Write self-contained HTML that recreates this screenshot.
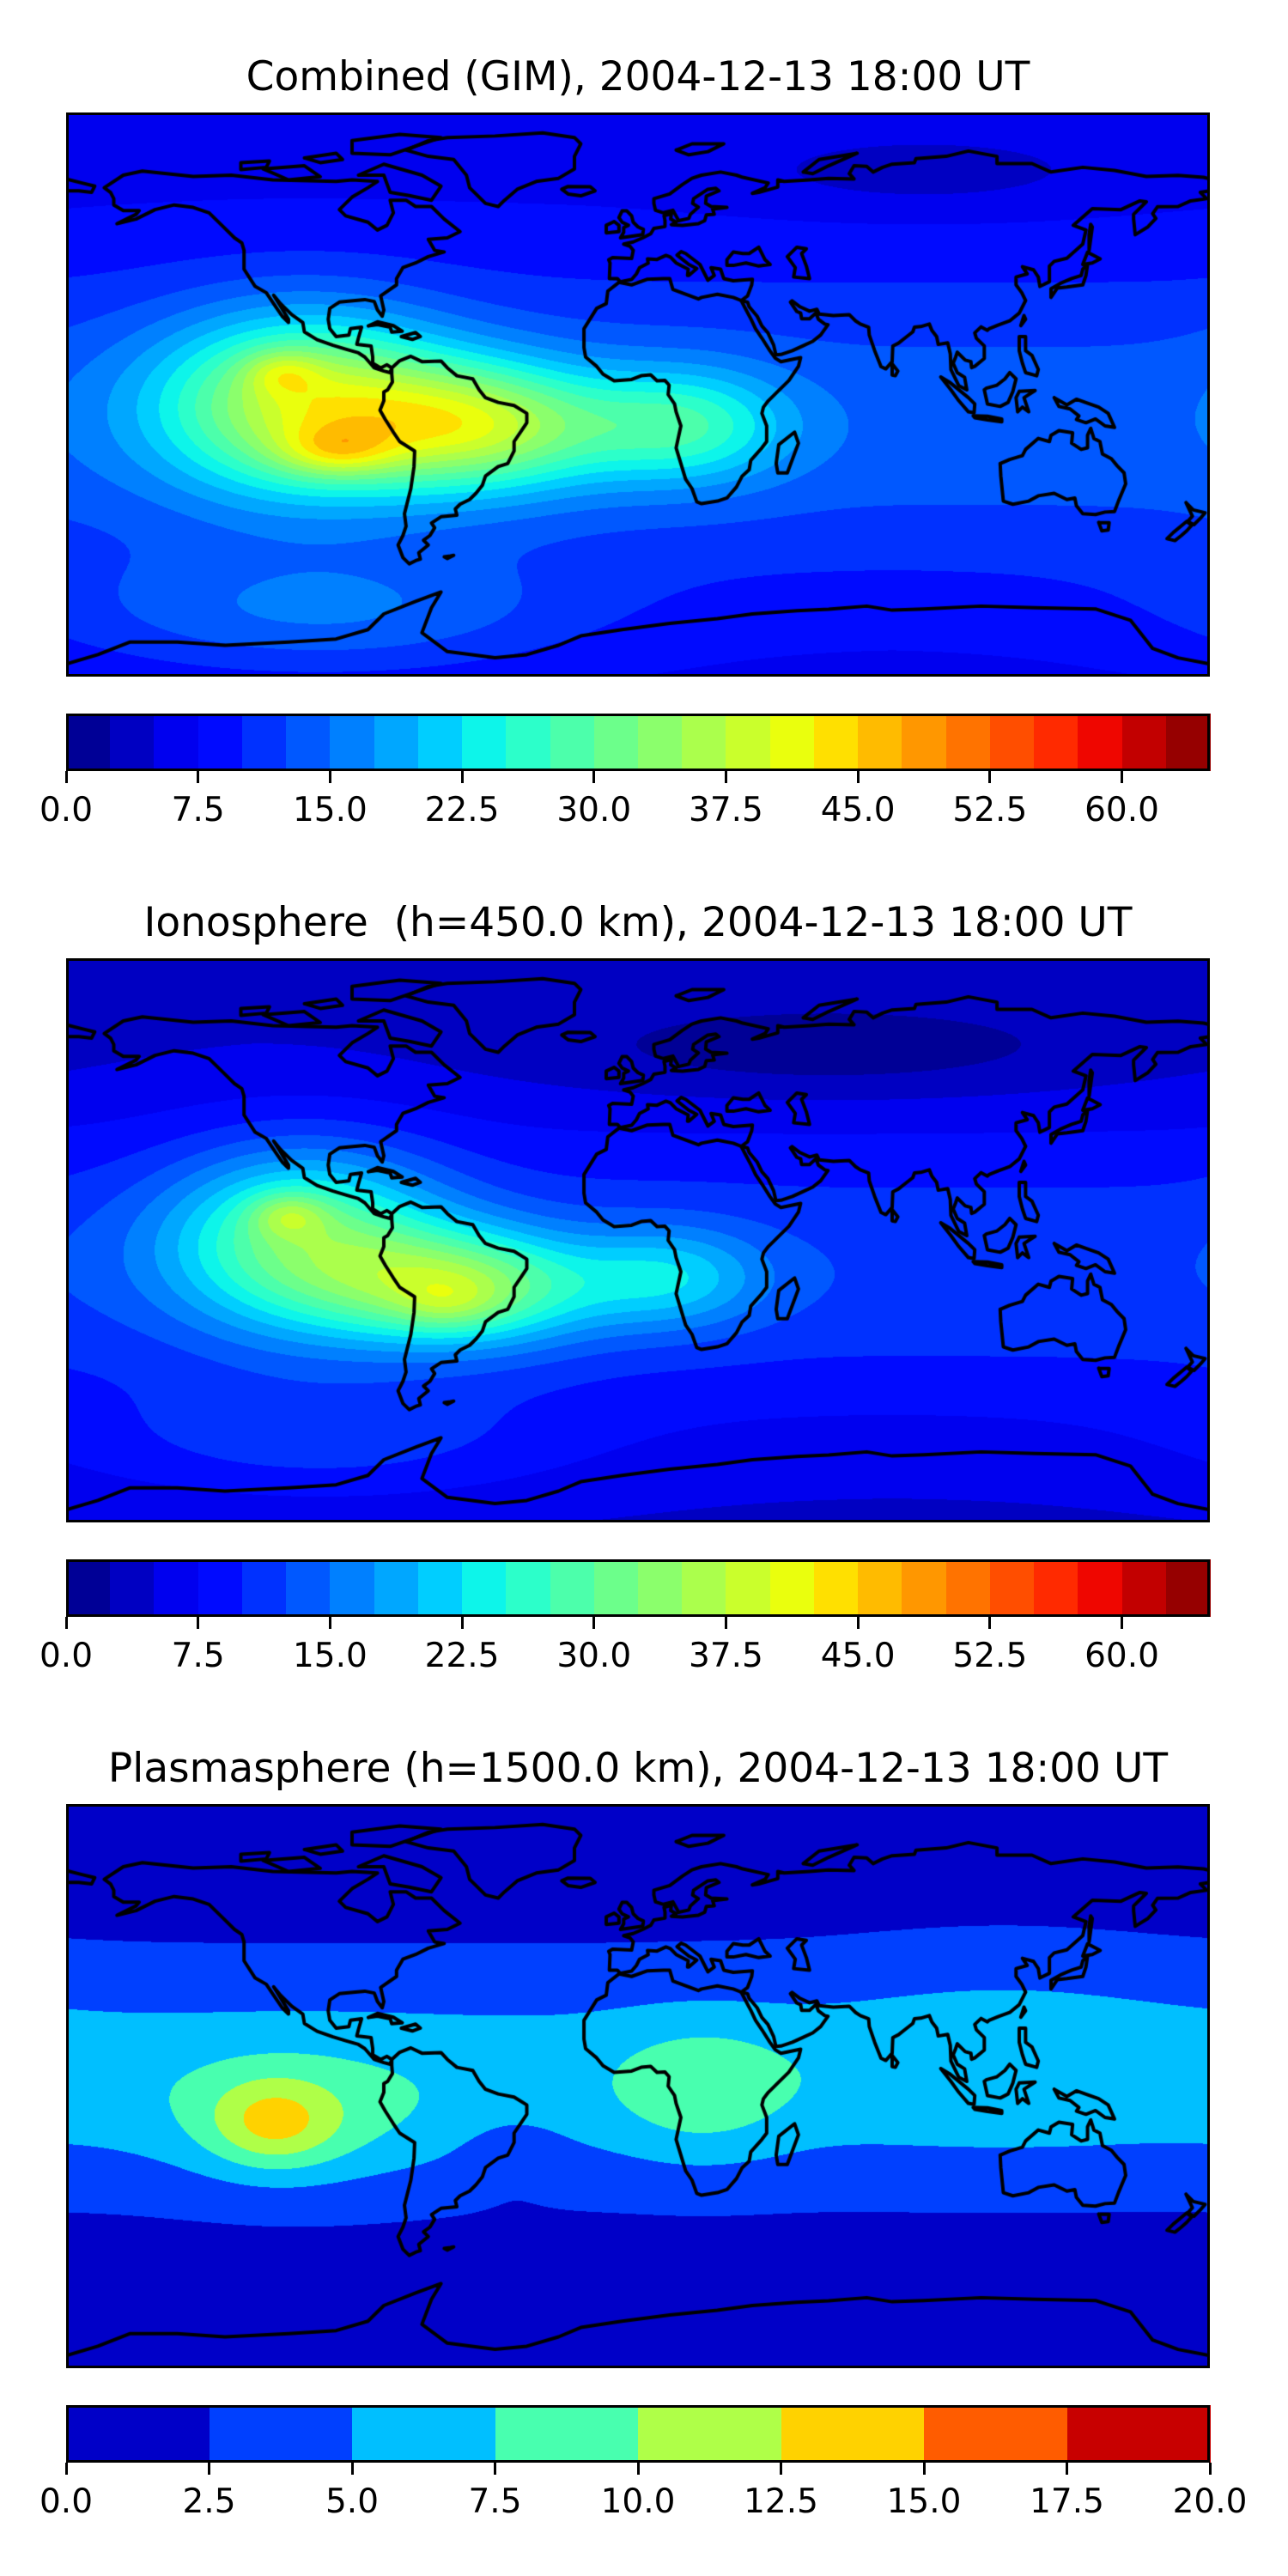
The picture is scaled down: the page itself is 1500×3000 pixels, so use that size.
<!DOCTYPE html>
<html><head><meta charset="utf-8">
<style>
html,body{margin:0;padding:0;background:#fff;}
body{width:1500px;height:3000px;position:relative;overflow:hidden;font-family:"DejaVu Sans","Liberation Sans",sans-serif;}
.title{position:absolute;left:77px;width:1332px;text-align:center;font-size:47px;line-height:56px;color:#000;white-space:nowrap;}
.map{position:absolute;left:77px;width:1332px;height:657px;}
.map canvas{position:absolute;left:0;top:0;}
.frame{position:absolute;left:0;top:0;width:1332px;height:657px;box-sizing:border-box;border:3px solid #000;}
.cbar{position:absolute;left:77px;width:1332px;height:67px;}
.cbar .sw{position:absolute;top:0;height:67px;}
.cbar .frame{height:67px;}
.tick{position:absolute;width:3px;height:14px;background:#000;margin-left:-1.5px;}
.tl{position:absolute;font-size:39px;line-height:46px;width:140px;margin-left:-70px;text-align:center;color:#000;}
</style></head>
<body>
<div class="title" style="top:62px">Combined (GIM), 2004-12-13 18:00 UT</div>
<div class="map" id="map0" style="top:131px"><canvas width="1332" height="657"></canvas><div class="frame"></div></div>
<div class="cbar" id="cb0" style="top:831px"></div>

<div class="title" style="top:1047px">Ionosphere&nbsp; (h=450.0 km), 2004-12-13 18:00 UT</div>
<div class="map" id="map1" style="top:1116px"><canvas width="1332" height="657"></canvas><div class="frame"></div></div>
<div class="cbar" id="cb1" style="top:1816px"></div>

<div class="title" style="top:2032px">Plasmasphere (h=1500.0 km), 2004-12-13 18:00 UT</div>
<div class="map" id="map2" style="top:2101px"><canvas width="1332" height="657"></canvas><div class="frame"></div></div>
<div class="cbar" id="cb2" style="top:2801px"></div>

<script>
// ---- colorbar data ----
const levelMax = [65, 65, 20];
const levelStep = [2.5, 2.5, 2.5];
const ticksA = [0.0, 7.5, 15.0, 22.5, 30.0, 37.5, 45.0, 52.5, 60.0];
const ticksB = [0.0, 2.5, 5.0, 7.5, 10.0, 12.5, 15.0, 17.5, 20.0];

// ---- field data (base latitude band + blobs) ----
const baseLevel = [6, 4, 1.5];
const baseAmp = [8, 8, 4.8];
const baseLat = [-10, -10, 3];
const baseWidth = [55, 50, 34];
// combined
const blobLon0 = [-105, -50, 15, -112, -95, -100, 90];
const blobLat0 = [-3, -10, -10, 7, -18, -70, 70];
const blobAmp0 = [24, 22, 13, 7, 9, 7, -3];
const blobSLon0 = [45, 42, 32, 12, 18, 80, 60];
const blobSLat0 = [28, 20, 18, 7, 8, 20, 12];
// ionosphere
const blobLon1 = [-105, -55, 10, -110, -60, -100, 60];
const blobLat1 = [0, -15, -12, 8, -20, -65, 60];
const blobAmp1 = [20, 21, 10, 8, 4, 5, -4];
const blobSLon1 = [42, 40, 30, 12, 15, 80, 90];
const blobSLat1 = [28, 18, 16, 7, 8, 20, 15];
// plasmasphere
const blobLon2 = [20, -115, -105, 115, -40];
const blobLat2 = [-2, -12, -12, 15, -22];
const blobAmp2 = [3.3, 5.5, 3, 1.3, -1.5];
const blobSLon2 = [28, 20, 45, 55, 15];
const blobSLat2 = [22, 14, 22, 32, 12];

const blobs = [
  [blobLon0, blobLat0, blobAmp0, blobSLon0, blobSLat0],
  [blobLon1, blobLat1, blobAmp1, blobSLon1, blobSLat1],
  [blobLon2, blobLat2, blobAmp2, blobSLon2, blobSLat2]
];

// matplotlib jet
function interp(seg, x){for(let i=1;i<seg.length;i++){if(x<=seg[i][0]){const a=seg[i-1],b=seg[i];return a[1]+(b[1]-a[1])*(x-a[0])/(b[0]-a[0]);}}return seg[seg.length-1][1];}
const R=[[0,0],[0.35,0],[0.66,1],[0.89,1],[1,0.5]];
const G=[[0,0],[0.125,0],[0.375,1],[0.64,1],[0.91,0],[1,0]];
const B=[[0,0.5],[0.11,1],[0.34,1],[0.65,0],[1,0]];
function jet(x){return [Math.round(255*interp(R,x)),Math.round(255*interp(G,x)),Math.round(255*interp(B,x))];}

function field(p, lon, lat){
  let v = baseLevel[p] + baseAmp[p]*Math.exp(-Math.pow((lat-baseLat[p])/baseWidth[p],2));
  const b = blobs[p];
  for(let i=0;i<b[0].length;i++){
    let dl = lon-b[0][i]; if(dl>180) dl-=360; if(dl<-180) dl+=360;
    v += b[2][i]*Math.exp(-Math.pow(dl/b[3][i],2)-Math.pow((lat-b[1][i])/b[4][i],2));
  }
  return v;
}

// coastlines (lon,lat)
const coasts = [
 [[-168,66],[-162,70],[-156,71.3],[-140,69.6],[-128,70],[-115,68.5],[-95,68],[-90,68.5],[-82,68],[-85,66],[-90,63],[-94,59],[-92,57],[-85,55],[-82,52.5],[-79,54],[-77,58],[-78,62],[-73,62],[-70,60],[-65,60],[-61,56],[-56,52],[-60,50],[-66,49.5],[-64,46],[-61,45.5],[-66,44],[-70,42],[-74,40.5],[-76,37],[-76,35],[-81,31.5],[-80,27],[-80.5,25],[-82,27],[-83,29.7],[-86,30.3],[-89,30],[-94,29.5],[-97,27.5],[-97.5,24],[-97,21],[-95,18.5],[-91,19],[-90.5,21],[-87,21.5],[-88,18],[-88.5,16],[-84,15.5],[-83.5,12],[-83.5,10],[-81,8.5],[-79,9.5],[-77.5,8.5],[-78,7],[-80,7.5],[-83,8.5],[-86,12],[-88,13.3],[-92,14.5],[-96,15.7],[-101,17.5],[-105,20],[-105.5,23],[-109,25.5],[-112.5,29],[-114.7,31.7],[-113,29],[-110,24],[-110,23],[-112,25],[-114,28],[-117,32.5],[-120.5,34.5],[-124,40],[-124,46],[-124.7,48.4],[-127,50],[-131,54],[-135,58],[-140,59.7],[-146,60.5],[-152,59],[-158,56],[-164,54.5],[-158,57.5],[-157,58.7],[-162,58.7],[-165,60.5],[-165,62.5],[-166,64.5],[-168,66]],
 [[-77.5,8.5],[-75,10.8],[-71.5,12.2],[-68,10.5],[-62,10.7],[-60,8.5],[-57,6],[-52,5],[-50,1.5],[-48,-1],[-44,-2.5],[-39,-3.5],[-35,-6],[-35,-9],[-37,-12],[-39,-15],[-39,-18],[-41,-22],[-44,-23],[-48,-26],[-49,-29],[-51,-31.5],[-53,-33.5],[-56,-35],[-57.5,-36.5],[-57,-38.5],[-62,-39],[-65,-41],[-64,-42.5],[-65.5,-45],[-67.5,-46.5],[-66,-48],[-69,-50.5],[-68.5,-52.5],[-70,-53],[-72,-54],[-74,-52],[-75.5,-48],[-74,-45],[-73,-42],[-73.5,-38],[-71.5,-30],[-70.5,-23],[-70.3,-18],[-75,-15],[-77,-12],[-79.5,-8],[-81.2,-5],[-80,-2],[-80,0.8],[-78.8,1.5],[-77.3,4],[-77.5,6.5],[-77.5,8.5]],
 [[-73,78],[-66,81],[-60,82],[-45,82.5],[-30,83.5],[-20,82],[-18,80],[-20,76],[-20,72],[-25,69],[-32,68],[-38,65.5],[-42,62],[-44,60],[-48,61],[-51,64],[-53,66],[-54,70],[-58,75],[-66,76],[-73,78]],
 [[32.5,30],[30,31],[25,32],[20,31],[19,30.5],[15,32],[11,33.5],[10,37],[8,37],[3,36.8],[-2,35],[-6,35.8],[-9.5,33],[-10,29],[-13,27.5],[-17,21],[-17,15],[-16.5,12],[-13,9],[-11,6.5],[-7.5,4.4],[-2,4.8],[1,6],[4,6.3],[6,4.4],[8.5,4.5],[9.8,3],[9.5,0],[11.5,-3],[12,-5.5],[13.5,-10],[12,-17],[15,-27],[17,-30],[18.5,-34.2],[20,-34.8],[25,-34],[28,-33],[31,-29.5],[32.8,-26],[35,-24],[35.5,-21],[39,-17],[40.5,-15],[40.5,-10],[39,-6],[39.5,-4],[41,-2],[44,1],[47.5,4.5],[50.5,9],[51.2,11.8],[45,10.5],[43.2,11.6],[41.5,14],[39,18],[37,21],[35.6,24],[33.5,28],[32.5,30]],
 [[32.5,30],[34.5,31.5],[35.8,35],[36,36.8],[30,36.3],[27,37],[26,40],[23,40.5],[24,38],[22,36.5],[21,38.5],[19.5,41.5],[15,45],[13.6,45.6],[12.3,44.5],[16,41.5],[18.5,40.2],[16,38],[15.6,38],[15.8,40],[12,42],[10.2,43.9],[8.8,44.4],[6,43.1],[3,43.3],[3.2,41.9],[0.5,40.5],[-0.5,38.5],[-2,36.7],[-5.6,36],[-6.5,37],[-9,37],[-8.8,42],[-9.2,43],[-8,43.7],[-2,43.4],[-1.5,46],[-2.5,47.3],[-4.5,48],[-1.5,48.7],[1.5,50],[4,51.3],[5,53],[8.5,53.6],[8.5,55.5],[8.2,57],[10.5,57.7],[10.3,56],[12,55],[10.5,54.2],[14,54],[19,54.5],[21,55.5],[21.5,57.3],[24,57.5],[23.5,59.2],[28,59.7],[23,60],[21.3,61],[21.5,63.3],[25.5,65],[24.5,65.8],[22,65.5],[17.5,62.5],[17.2,61],[19,59.8],[16.5,57.5],[16,56.2],[12.8,55.5],[11,58.8],[8,58],[5.5,58.8],[5,61],[5,62.5],[10,64],[14,67],[17,69],[20,70],[26,71],[31,70],[33,69.3],[41,67.5],[40,66],[36,64.2],[38,64.5],[44,66.2],[44,68.5],[46,68],[54,68.5],[60,69],[68,68.8],[66.5,70.5],[68,73],[72,72.8],[74,71],[77,72.5],[80,73.5],[87,74],[87.5,75.3],[97,76],[104,77.7],[113,76],[113,73.7],[124,73.7],[130,71],[140,72.5],[150,71.5],[160,69.6],[170,69.9],[178,69.3],[180,68.8]],
 [[180,65],[177,64.5],[179,62.5],[174,61.8],[170,60],[163.5,59.9],[162,57.7],[163,56.2],[160.5,53.5],[156.5,51],[156,56],[156,57.5],[160,61.5],[158,61.8],[152,59],[143,59.3],[137,54],[141,52.5],[140,48],[135,43.5],[131,42.5],[129.5,41],[129.5,36],[126.5,34.5],[126,37.5],[124.5,39.8],[121,40.8],[122.5,38.5],[119,37.5],[119,35],[120.8,32.5],[122,30],[120,26],[117,23.5],[113.5,22.2],[110.5,21],[110,20.5],[108,21.6],[106,19.7],[106.5,18],[109,15.5],[109,11.5],[106,9],[105,8.6],[104.8,10.5],[103,11],[100.5,13.5],[100,12],[99.2,10],[100.5,7],[102.8,5.5],[103.5,1.5],[101,2.8],[98.5,8],[98.3,13],[97.5,16.5],[94.5,16],[94,18.5],[92.5,20.5],[91.7,22.5],[89,21.7],[87,21.5],[86.5,20],[84,18],[82,16.4],[80.2,15.5],[80,10.5],[78,8.2],[76.5,8.9],[74.5,14],[72.8,19],[72.6,21.5],[70,22.5],[68.5,23.5],[66.5,25.5],[61.5,25.2],[57,25.7],[56.3,27.2],[54,26.6],[51,28],[48.5,29.9],[48,29.5],[50,26.5],[51.2,26],[51.5,24.2],[54,24.2],[56,26],[56.8,24],[58.8,22.5],[59.8,22.3],[57.5,19],[55,17],[52,15.6],[48.6,14],[45,12.8],[43.4,12.7],[42.7,15.8],[40.9,19.7],[39,21.9],[37.5,25],[35,28],[34.5,29.5],[32.5,30]],
 [[-180,68.8],[-175,67.5],[-171,66.5],[-172,64.5],[-176,65],[-180,65]],
 [[-5.5,50],[1.5,51],[1.7,52.7],[0,53.5],[-1.5,55],[-2,57],[-3.5,58.6],[-5,58.6],[-6,56.5],[-5,55],[-3,54],[-4.5,53.3],[-4.5,51.8],[-5.5,50]],
 [[-6,52],[-10,51.6],[-10,54],[-7.5,55.2],[-6,54],[-6,52]],
 [[-22,64],[-24,65.5],[-22,66.4],[-15,66.3],[-13.5,65],[-18,63.4],[-22,64]],
 [[130,31],[132,34],[135,34.3],[140,35],[141,38],[141.5,41.5],[140,40],[139.5,38],[136.5,37],[133,35.5],[130,33.8],[130,31]],
 [[140,41.5],[141.5,45.4],[145.5,43.3],[143,42],[140,41.5]],
 [[44,-25],[47,-25],[50.5,-15.5],[49.3,-12],[44.3,-16],[43.5,-22],[44,-25]],
 [[114,-22],[114.2,-26],[115,-34],[118,-35],[123,-34],[126,-32.3],[131,-31.5],[135,-33.5],[137.5,-33],[138,-35.5],[140,-38],[144,-38.3],[147,-37.5],[150,-37.3],[151.3,-33.8],[153.5,-28.5],[153,-25],[150.8,-22.7],[149,-20.5],[146.2,-19],[145.4,-15],[143.5,-14],[142.5,-10.8],[141.5,-13],[141.5,-17],[139.5,-17.5],[136.5,-15.5],[136.8,-12.2],[132.5,-11.5],[130,-13],[129.5,-15],[126,-14],[122,-17.5],[121,-19.5],[117,-20.7],[114,-22]],
 [[145,-40.8],[148.3,-40.9],[148,-43.2],[146,-43.5],[145,-40.8]],
 [[172.5,-34.5],[174.8,-36.8],[178.5,-37.7],[177,-39.5],[175,-41.5],[173,-40.5],[174.5,-38.8],[172.5,-34.5]],
 [[172.7,-40.5],[174.3,-41.7],[172.7,-43.5],[171,-45],[169,-46.6],[166.5,-46],[168.5,-44],[172.7,-40.5]],
 [[95.3,5.6],[98,4],[104,-1],[106,-3],[105.8,-5.8],[104,-5.5],[101,-2],[98.5,1.5],[95.3,5.6]],
 [[109,1.5],[110,-3],[114,-3.8],[116.5,-2.5],[118,1],[119,5],[117,7],[115.5,5],[113,3],[109.6,2],[109,1.5]],
 [[105.5,-6.8],[110,-6.9],[114.5,-7.8],[114.5,-8.7],[110,-8.1],[106,-7.4],[105.5,-6.8]],
 [[131,-1],[135,-3.3],[138,-1.5],[141,-2.6],[145,-4],[148,-6],[150,-10.5],[147,-10],[144,-7.8],[141,-9],[138,-8],[138.8,-6.8],[136,-4.6],[132.5,-3.8],[131,-1]],
 [[120,1],[125,1.3],[121.5,-1],[123,-5.5],[121,-4],[119.5,-5.5],[119,-1],[120,1]],
 [[120,18.5],[122,18.5],[122,14],[124,12.5],[126,8],[125.5,6],[122,7],[121,10],[120,14],[120,18.5]],
 [[120.5,22],[121.5,25.2],[122,24],[120.5,22]],
 [[80,9.8],[81.8,7.5],[81,6],[80,6.2],[80,9.8]],
 [[-84.9,21.9],[-82,23.2],[-77,22],[-74.2,20.2],[-77.5,19.9],[-78,21.5],[-82,22.3],[-84.9,21.9]],
 [[-74.5,18.5],[-70,19.8],[-68.5,18.5],[-71,17.6],[-74.5,18.5]],
 [[-80,73.5],[-68,70],[-62,66.5],[-65,62],[-72,63.5],[-78,64.5],[-80,70],[-88,70],[-80,73.5]],
 [[-118,72],[-105,73],[-100,69.5],[-110,68.5],[-118,72]],
 [[-90,77],[-78,76.5],[-62,82],[-75,83],[-90,81],[-90,77]],
 [[-125,71.8],[-125,74],[-116,74.5],[-117,72.5],[-125,71.8]],
 [[-105,75.5],[-95,77],[-93,75],[-100,74],[-105,75.5]],
 [[12,78],[17,80],[27,80],[22,77.5],[16,76.5],[12,78]],
 [[52,71],[57,75],[69,77],[60,73],[55,70.5],[52,71]],
 [[142,46],[143,53.5],[142.5,54.3],[142,51],[142,46]],
 [[47,44],[50,47],[53,46.5],[51.5,45],[53,41],[54,37],[49,37.5],[49.5,40.5],[47,44]],
 [[28,41.2],[28,43],[30,45.5],[33,45],[35,45],[38,47],[40,43],[41.6,41.5],[38,41],[34,42],[30,41.2],[28,41.2]],
 [[-59,-51.5],[-58,-51.3],[-60,-52.3],[-61,-51.8],[-59,-51.5]],
 [[-180,-86],[-170,-83],[-160,-79],[-145,-79],[-130,-80],[-110,-79],[-95,-78],[-85,-75],[-80,-70],[-70,-66],[-62,-63],[-65,-68],[-68,-76],[-60,-82],[-45,-84],[-35,-83],[-25,-80],[-18,-77],[-5,-75],[10,-73],[25,-71.5],[36,-70],[50,-69],[60,-68.5],[72,-67.5],[80,-68.8],[90,-68.4],[108,-67.5],[125,-68],[144,-68.4],[155,-72],[162,-81],[170,-84],[180,-86]]
];

const W=1332,H=657;
function xOf(lon){return (lon+180)/360*W;}
function yOf(lat){return (90-lat)/180*H;}

for(let p=0;p<3;p++){
  const cv=document.querySelector('#map'+p+' canvas');
  
  
  const ctx=cv.getContext('2d');
  const img=ctx.createImageData(W,H);
  const n=Math.round(levelMax[p]/levelStep[p]);
  const pal=[];for(let i=0;i<n;i++)pal.push(jet((i+0.5)/n));
  for(let y=0;y<H;y++){
    const lat=90-(y+0.5)/H*180;
    for(let x=0;x<W;x++){
      const lon=-180+(x+0.5)/W*360;
      let k=Math.floor(field(p,lon,lat)/levelStep[p]);
      if(k<0)k=0;if(k>n-1)k=n-1;
      const c=pal[k],o=(y*W+x)*4;
      img.data[o]=c[0];img.data[o+1]=c[1];img.data[o+2]=c[2];img.data[o+3]=255;
    }
  }
  ctx.putImageData(img,0,0);
  ctx.strokeStyle='#000';ctx.lineWidth=4;ctx.lineJoin='round';ctx.lineCap='round';
  coasts.forEach(poly=>{
    ctx.beginPath();
    poly.forEach((pt,i)=>{const X=xOf(pt[0]),Y=yOf(pt[1]);if(i)ctx.lineTo(X,Y);else ctx.moveTo(X,Y);});
    ctx.stroke();
  });

  // colorbar
  const cb=document.getElementById('cb'+p);
  const sw=W/n;
  for(let i=0;i<n;i++){
    const d=document.createElement('div');
    d.className='sw';
    
    
    const c=pal[i];
    d.style.left=(i*sw)+'px';d.style.width=(sw+0.6)+'px';
    d.style.background='rgb('+c[0]+','+c[1]+','+c[2]+')';
    cb.appendChild(d);
  }
  const fr=document.createElement('div');fr.className='frame';
  
  
  cb.appendChild(fr);
  const ticks=(p<2)?ticksA:ticksB;
  ticks.forEach(t=>{
    const X=t/levelMax[p]*W;
    const tk=document.createElement('div');tk.className='tick';
    
    
    tk.style.left=X+'px';tk.style.top='67px';
    cb.appendChild(tk);
    const lb=document.createElement('div');lb.className='tl';
    
    
    lb.style.left=X+'px';lb.style.top='90px';
    lb.textContent=t.toFixed(1);
    cb.appendChild(lb);
  });
}
</script>
</body></html>
